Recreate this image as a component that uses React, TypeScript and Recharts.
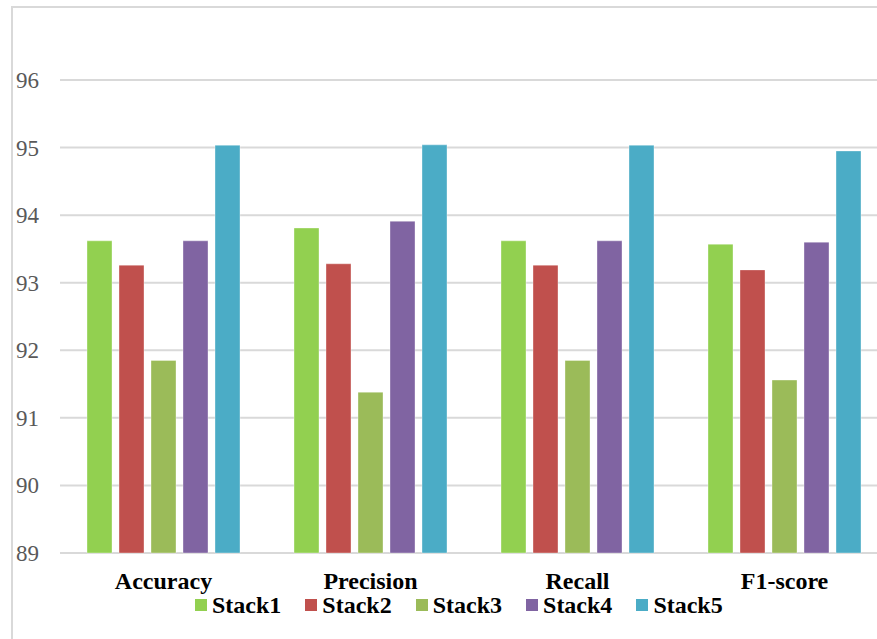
import { BarChart, Bar, XAxis, YAxis, CartesianGrid, Legend } from 'recharts'

const metrics = ['Accuracy', 'Precision', 'Recall', 'F1-score']
const stack1 = [93.62, 93.81, 93.62, 93.57]
const stack2 = [93.26, 93.28, 93.26, 93.19]
const stack3 = [91.85, 91.38, 91.85, 91.56]
const stack4 = [93.62, 93.91, 93.62, 93.6]
const stack5 = [95.035, 95.04, 95.035, 94.95]
const yTicks = [89, 90, 91, 92, 93, 94, 95, 96]

const series = [
  { key: 'stack1', name: 'Stack1', color: '#92D050', values: stack1 },
  { key: 'stack2', name: 'Stack2', color: '#C0504D', values: stack2 },
  { key: 'stack3', name: 'Stack3', color: '#9BBB59', values: stack3 },
  { key: 'stack4', name: 'Stack4', color: '#8064A2', values: stack4 },
  { key: 'stack5', name: 'Stack5', color: '#4BACC6', values: stack5 },
]

const data = metrics.map((metric, i) => {
  const row: Record<string, string | number> = { metric }
  series.forEach((s) => {
    row[s.key] = s.values[i]
  })
  return row
})

const serif = '"Liberation Serif", "Times New Roman", serif'

function MetricTick(props: any) {
  const { x, y, payload } = props
  return (
    <text x={x} y={y} dy={36} textAnchor="middle" fontFamily={serif} fontSize={24} fontWeight="bold" fill="#000">
      {payload.value}
    </text>
  )
}

function ValueTick(props: any) {
  const { x, y, payload } = props
  return (
    <text x={x} y={y} dy={8} textAnchor="end" fontFamily={serif} fontSize={23} fill="#595959">
      {payload.value}
    </text>
  )
}

function LegendContent() {
  return (
    <div style={{ display: 'flex', alignItems: 'center', fontFamily: serif, fontSize: 24, fontWeight: 'bold', color: '#000' }}>
      {series.map((s) => (
        <div key={s.key} style={{ display: 'flex', alignItems: 'center', marginRight: 24 }}>
          <span style={{ width: 12, height: 12, background: s.color, marginRight: 5, display: 'inline-block' }} />
          <span style={{ lineHeight: '24px' }}>{s.name}</span>
        </div>
      ))}
    </div>
  )
}

export default function App() {
  return (
    <div style={{ position: 'fixed', left: 0, top: 0, width: 877, height: 639, overflow: 'hidden', background: '#fff' }}>
      <div style={{ position: 'absolute', left: 0, top: 0 }}>
        <BarChart
          width={900}
          height={639}
          data={data}
          margin={{ top: 80, right: 12, bottom: 0, left: 0 }}
          barSize={25}
          barGap={7}
        >
          <CartesianGrid vertical={false} stroke="#d9d9d9" strokeWidth={2} />
          <XAxis
            dataKey="metric"
            height={86}
            axisLine={false}
            tickLine={false}
            tickSize={0}
            tickMargin={0}
            tick={<MetricTick />}
            interval={0}
          />
          <YAxis
            width={60}
            domain={[89, 96]}
            ticks={yTicks}
            axisLine={false}
            tickLine={false}
            tickSize={0}
            tickMargin={21}
            tick={<ValueTick />}
          />
          <Legend
            layout="horizontal"
            verticalAlign="middle"
            align="center"
            content={<LegendContent />}
            wrapperStyle={{ position: 'absolute', top: 593, left: 195, width: 'auto', height: 24 }}
          />
          {series.map((s) => (
            <Bar
              key={s.key}
              dataKey={s.key}
              name={s.name}
              fill={s.color}
              stroke="rgba(255,255,255,0.35)"
              strokeWidth={1}
              isAnimationActive={false}
            />
          ))}
        </BarChart>
      </div>
      <div
        style={{
          position: 'absolute',
          left: 11,
          top: 6,
          width: 900,
          height: 700,
          borderLeft: '2px solid #d9d9d9',
          borderTop: '2px solid #d9d9d9',
          pointerEvents: 'none',
        }}
      />
    </div>
  )
}
